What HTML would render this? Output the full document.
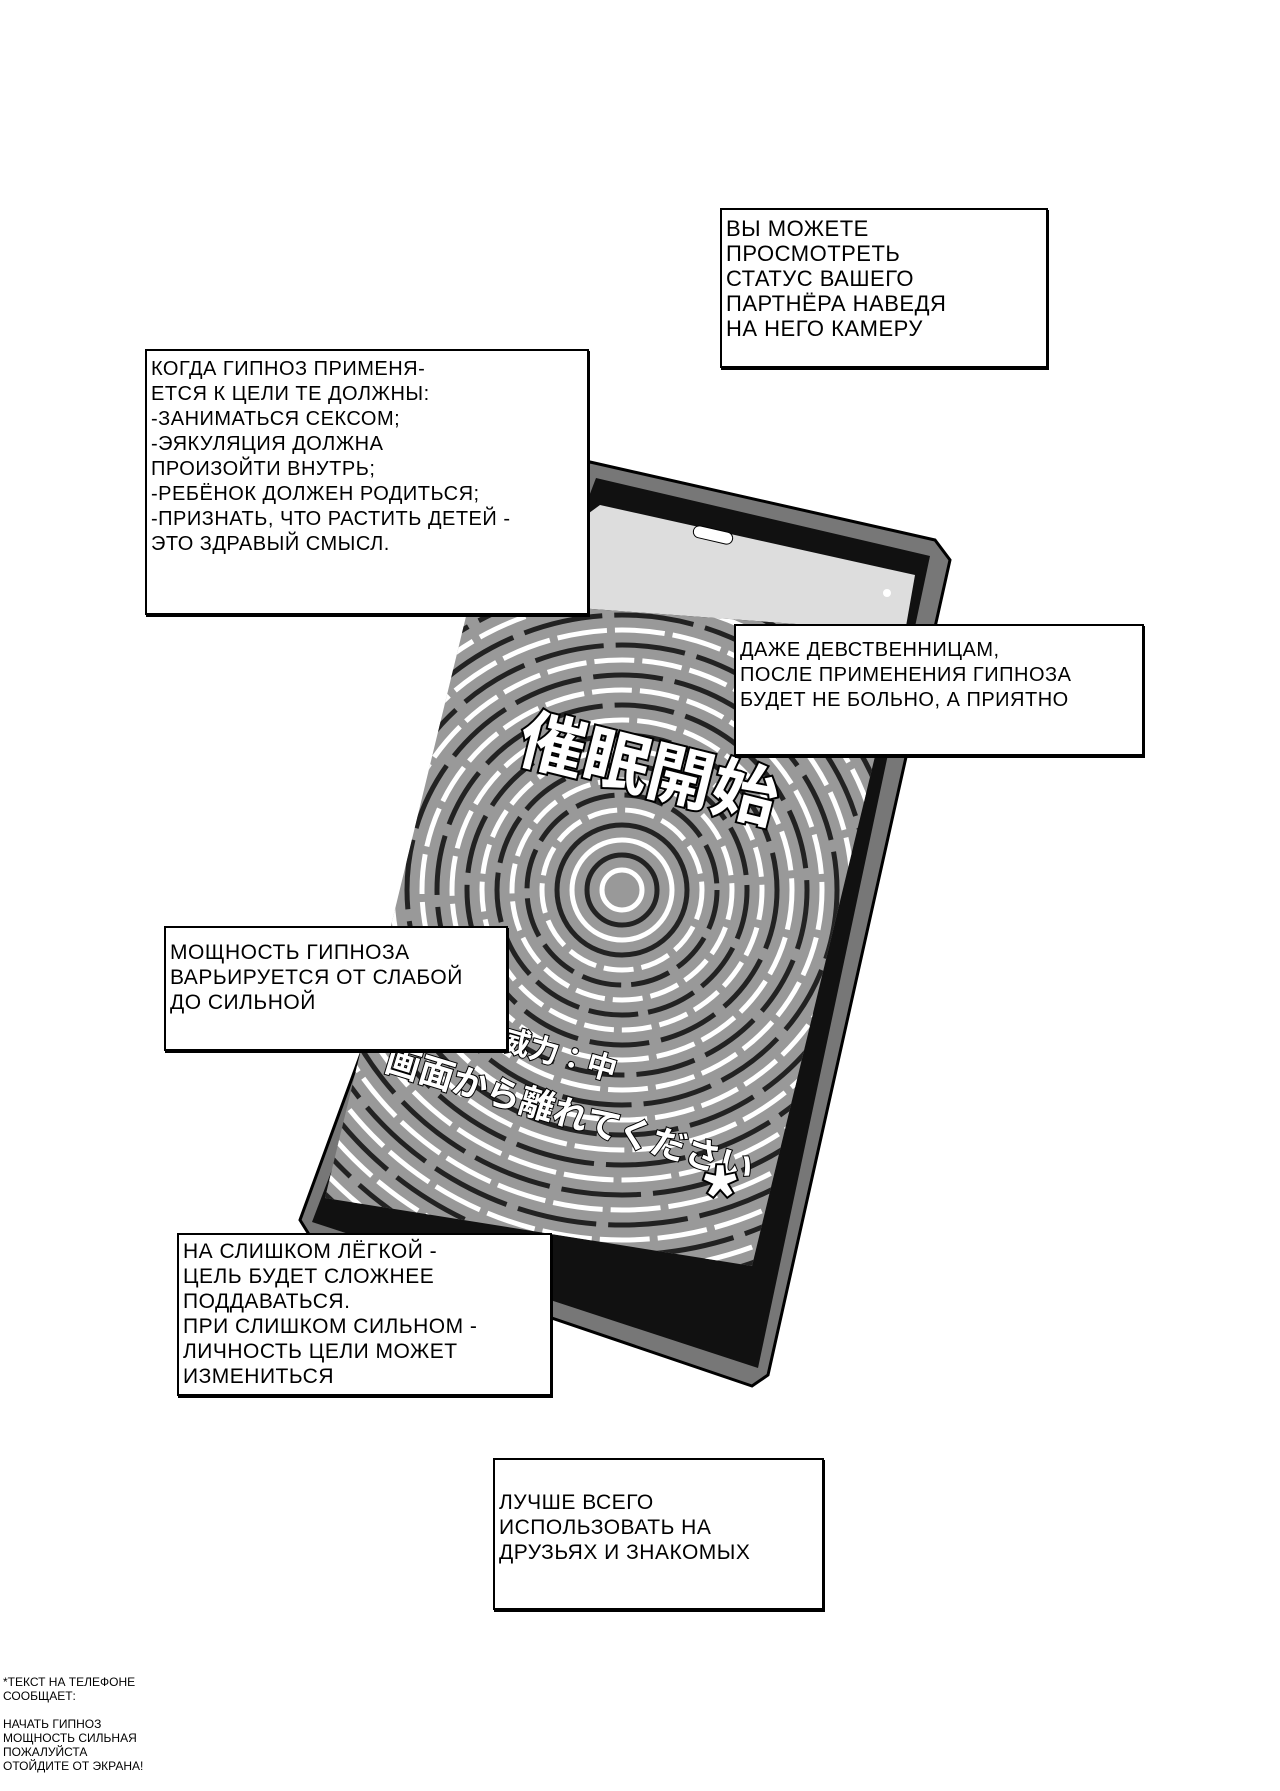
<!DOCTYPE html>
<html><head><meta charset="utf-8"><style>
body{margin:0;width:1280px;height:1791px;background:#fff;position:relative;overflow:hidden;font-family:"Liberation Sans Narrow","Liberation Sans",sans-serif;}
.b{position:absolute;background:#fff;border:2px solid #000;box-shadow:1px 2px 0 #000;box-sizing:border-box;padding:6px 4px;font-size:22px;line-height:25px;text-transform:uppercase;color:#000;letter-spacing:0.5px;}
.fn{position:absolute;left:3px;top:1675px;font-size:12px;line-height:14px;text-transform:uppercase;}
svg{position:absolute;left:0;top:0}
</style></head><body>
<svg width="1280" height="1791">
<defs>
<clipPath id="scr"><polygon points="470,600 905,632 752,1266 325,1198"/></clipPath>
</defs>
<polygon points="590,462 935,540 950,560 768,1375 752,1386 310,1236 300,1220 575,470" fill="#777" stroke="#000" stroke-width="3"/>
<polygon points="596,478 930,556 758,1368 312,1222" fill="#111"/>
<polygon points="600,505 915,575 905,632 470,600" fill="#ddd"/>
<g clip-path="url(#scr)">
<rect x="300" y="560" width="650" height="740" fill="#999"/>
<g fill="none" stroke-width="5">
<circle cx="622" cy="890" r="20" stroke="#fff"/>
<circle cx="622" cy="890" r="35" stroke="#222"/>
<circle cx="622" cy="890" r="50" stroke="#fff"/>
<circle cx="622" cy="890" r="65" stroke="#222"/>
<circle cx="622" cy="890" r="80" stroke="#fff" stroke-dasharray="30 8"/>
<circle cx="622" cy="890" r="95" stroke="#222" stroke-dasharray="40 10"/>
<circle cx="622" cy="890" r="110" stroke="#fff" stroke-dasharray="30 8"/>
<circle cx="622" cy="890" r="125" stroke="#222" stroke-dasharray="50 10"/>
<circle cx="622" cy="890" r="140" stroke="#fff" stroke-dasharray="30 8"/>
<circle cx="622" cy="890" r="155" stroke="#222" stroke-dasharray="60 12"/>
<circle cx="622" cy="890" r="170" stroke="#fff" stroke-dasharray="40 8"/>
<circle cx="622" cy="890" r="185" stroke="#222" stroke-dasharray="60 12"/>
<circle cx="622" cy="890" r="200" stroke="#fff" stroke-dasharray="40 8"/>
<circle cx="622" cy="890" r="215" stroke="#222" stroke-dasharray="70 12"/>
<circle cx="622" cy="890" r="230" stroke="#fff" stroke-dasharray="40 8"/>
<circle cx="622" cy="890" r="245" stroke="#222" stroke-dasharray="70 12"/>
<circle cx="622" cy="890" r="260" stroke="#fff" stroke-dasharray="50 8"/>
<circle cx="622" cy="890" r="275" stroke="#222" stroke-dasharray="80 12"/>
<circle cx="622" cy="890" r="290" stroke="#fff" stroke-dasharray="50 8"/>
<circle cx="622" cy="890" r="305" stroke="#222" stroke-dasharray="80 12"/>
<circle cx="622" cy="890" r="320" stroke="#fff" stroke-dasharray="50 8"/>
<circle cx="622" cy="890" r="335" stroke="#222" stroke-dasharray="80 12"/>
<circle cx="622" cy="890" r="350" stroke="#fff" stroke-dasharray="50 8"/>
<circle cx="622" cy="890" r="365" stroke="#222" stroke-dasharray="80 12"/>
<circle cx="622" cy="890" r="380" stroke="#fff" stroke-dasharray="50 8"/>
<circle cx="622" cy="890" r="395" stroke="#222" stroke-dasharray="80 12"/>
<circle cx="622" cy="890" r="410" stroke="#fff" stroke-dasharray="50 8"/>
<circle cx="622" cy="890" r="425" stroke="#222" stroke-dasharray="80 12"/>
<circle cx="622" cy="890" r="440" stroke="#fff" stroke-dasharray="50 8"/>
<circle cx="622" cy="890" r="455" stroke="#222" stroke-dasharray="80 12"/>
</g>
</g>
<rect x="693" y="529" width="40" height="12" rx="6" fill="#fff" stroke="#000" transform="rotate(13 713 535)"/>
<circle cx="887" cy="593" r="4" fill="#fff"/>
<g font-family="'Noto Sans CJK JP',sans-serif" font-weight="bold" fill="#fff" stroke="#000" stroke-width="2" paint-order="stroke">
<text x="515" y="760" font-size="66" transform="rotate(14 515 760)" stroke-width="4">催眠開始</text>
<text x="498" y="1048" font-size="30" transform="rotate(16 498 1048)">威力：中</text>
<text x="383" y="1070" font-size="35" transform="rotate(17 383 1070)">画面から離れてください</text>
<text x="700" y="1230" font-size="80" stroke-width="4">*</text>
</g>
</svg>
<div class="b" style="left:720px;top:208px;width:328px;height:160px">Вы можете<br>просмотреть<br>статус вашего<br>партнёра наведя<br>на него камеру</div>
<div class="b" style="left:145px;top:349px;width:444px;height:266px;font-size:20px;line-height:25px">Когда гипноз применя-<br>ется к цели те должны:<br>-заниматься сексом;<br>-эякуляция должна<br>произойти внутрь;<br>-ребёнок должен родиться;<br>-признать, что растить детей -<br>это здравый смысл.</div>
<div class="b" style="left:734px;top:624px;width:410px;height:132px;padding-top:12px;font-size:20px">Даже девственницам,<br>после применения гипноза<br>будет не больно, а приятно</div>
<div class="b" style="left:164px;top:926px;width:344px;height:125px;padding-top:12px;font-size:21px">Мощность гипноза<br>варьируется от слабой<br>до сильной</div>
<div class="b" style="left:177px;top:1233px;width:375px;height:163px;padding-top:4px;font-size:21px">на слишком лёгкой -<br>цель будет сложнее<br>поддаваться.<br>при слишком сильном -<br>личность цели может<br>измениться</div>
<div class="b" style="left:493px;top:1458px;width:331px;height:152px;padding-top:30px;font-size:21px">лучше всего<br>использовать на<br>друзьях и знакомых</div>
<div class="fn">*текст на телефоне<br>сообщает:<br><br>начать гипноз<br>мощность сильная<br>пожалуйста<br>отойдите от экрана!</div>
</body></html>
